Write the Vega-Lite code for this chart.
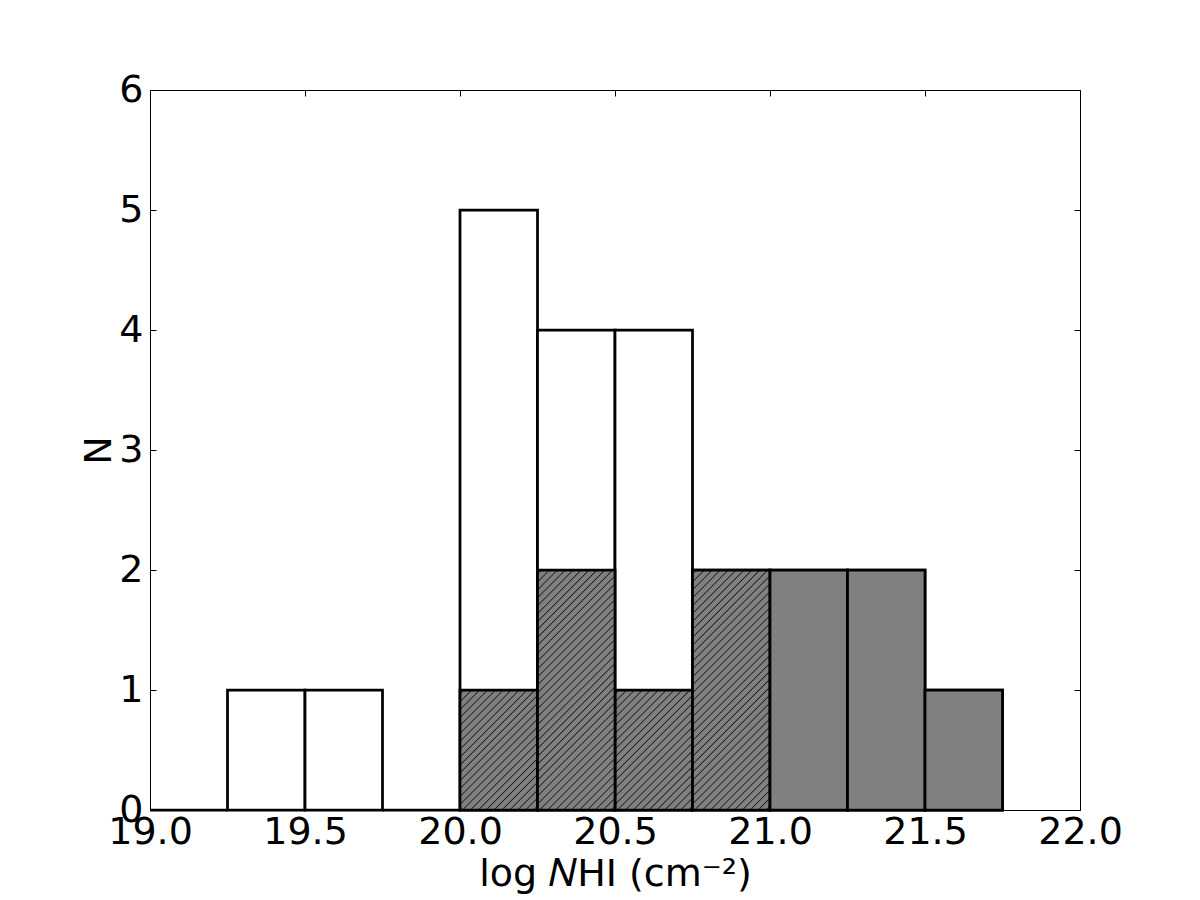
{
  "$schema": "https://vega.github.io/schema/vega-lite/v6.json",
  "autosize": {"type": "none"},
  "padding": {"left": 150, "top": 90, "right": 120, "bottom": 90},
  "width": 930,
  "height": 720,
  "background": "white",
  "config": {
    "view": {"stroke": "black", "strokeWidth": 1},
    "font": "DejaVu Sans",
    "axis": {
      "domain": false,
      "grid": false,
      "tickColor": "black",
      "tickWidth": 1,
      "tickSize": -6,
      "labelFont": "DejaVu Sans",
      "labelFontSize": 38,
      "labelColor": "black",
      "labelOverlap": false,
      "labelFlush": false,
      "labelBound": false,
      "titleFont": "DejaVu Sans",
      "titleFontSize": 38,
      "titleFontWeight": "normal",
      "titleColor": "black"
    }
  },
  "data": {
    "values": [
      {"lo": 19.0, "hi": 19.25, "n": 0, "sample": "all"},
      {"lo": 19.25, "hi": 19.5, "n": 1, "sample": "all"},
      {"lo": 19.5, "hi": 19.75, "n": 1, "sample": "all"},
      {"lo": 19.75, "hi": 20.0, "n": 0, "sample": "all"},
      {"lo": 20.0, "hi": 20.25, "n": 5, "sample": "all"},
      {"lo": 20.25, "hi": 20.5, "n": 4, "sample": "all"},
      {"lo": 20.5, "hi": 20.75, "n": 4, "sample": "all"},
      {"lo": 20.75, "hi": 21.0, "n": 2, "sample": "all"},
      {"lo": 21.0, "hi": 21.25, "n": 2, "sample": "all"},
      {"lo": 21.25, "hi": 21.5, "n": 2, "sample": "all"},
      {"lo": 21.5, "hi": 21.75, "n": 1, "sample": "all"},
      {"lo": 20.0, "hi": 20.25, "n": 1, "sample": "hatched"},
      {"lo": 20.25, "hi": 20.5, "n": 2, "sample": "hatched"},
      {"lo": 20.5, "hi": 20.75, "n": 1, "sample": "hatched"},
      {"lo": 20.75, "hi": 21.0, "n": 2, "sample": "hatched"},
      {"lo": 21.0, "hi": 21.25, "n": 2, "sample": "solid"},
      {"lo": 21.25, "hi": 21.5, "n": 2, "sample": "solid"},
      {"lo": 21.5, "hi": 21.75, "n": 1, "sample": "solid"}
    ]
  },
  "resolve": {"axis": {"x": "independent", "y": "independent"}},
  "layer": [
    {
      "transform": [{"filter": "datum.sample == 'all'"}],
      "mark": {"type": "bar", "fill": "white", "stroke": "black", "strokeWidth": 2.75},
      "encoding": {
        "x": {"field": "lo", "type": "quantitative", "scale": {"domain": [19, 22], "nice": false, "zero": false},
          "axis": {"orient": "bottom", "values": [19, 19.5, 20, 20.5, 21, 21.5, 22], "format": ".1f", "labelPadding": 9, "title": "log 𝑁HI (cm⁻²)", "titlePadding": 4}},
        "x2": {"field": "hi"},
        "y": {"field": "n", "type": "quantitative", "scale": {"domain": [0, 6], "nice": false},
          "axis": {"orient": "left", "values": [0, 1, 2, 3, 4, 5, 6], "format": "d", "labelPadding": 13, "title": "N", "titlePadding": 0}},
        "y2": {"datum": 0}
      }
    },
    {
      "transform": [{"filter": "datum.sample == 'hatched' && datum.n == 1"}],
      "mark": {"type": "bar", "stroke": "black", "strokeWidth": 2.75,
        "fill": {"gradient": "linear", "x1": 0, "y1": 0, "x2": 0.75, "y2": 1.161, "stops": [
          {"offset": 0, "color": "#808080"},
          {"offset": 0.014, "color": "#808080"}, {"offset": 0.02, "color": "#1a1a1a"}, {"offset": 0.026, "color": "#808080"},
          {"offset": 0.054, "color": "#808080"}, {"offset": 0.06, "color": "#1a1a1a"}, {"offset": 0.066, "color": "#808080"},
          {"offset": 0.094, "color": "#808080"}, {"offset": 0.10, "color": "#1a1a1a"}, {"offset": 0.106, "color": "#808080"},
          {"offset": 0.134, "color": "#808080"}, {"offset": 0.14, "color": "#1a1a1a"}, {"offset": 0.146, "color": "#808080"},
          {"offset": 0.174, "color": "#808080"}, {"offset": 0.18, "color": "#1a1a1a"}, {"offset": 0.186, "color": "#808080"},
          {"offset": 0.214, "color": "#808080"}, {"offset": 0.22, "color": "#1a1a1a"}, {"offset": 0.226, "color": "#808080"},
          {"offset": 0.254, "color": "#808080"}, {"offset": 0.26, "color": "#1a1a1a"}, {"offset": 0.266, "color": "#808080"},
          {"offset": 0.294, "color": "#808080"}, {"offset": 0.30, "color": "#1a1a1a"}, {"offset": 0.306, "color": "#808080"},
          {"offset": 0.334, "color": "#808080"}, {"offset": 0.34, "color": "#1a1a1a"}, {"offset": 0.346, "color": "#808080"},
          {"offset": 0.374, "color": "#808080"}, {"offset": 0.38, "color": "#1a1a1a"}, {"offset": 0.386, "color": "#808080"},
          {"offset": 0.414, "color": "#808080"}, {"offset": 0.42, "color": "#1a1a1a"}, {"offset": 0.426, "color": "#808080"},
          {"offset": 0.454, "color": "#808080"}, {"offset": 0.46, "color": "#1a1a1a"}, {"offset": 0.466, "color": "#808080"},
          {"offset": 0.494, "color": "#808080"}, {"offset": 0.50, "color": "#1a1a1a"}, {"offset": 0.506, "color": "#808080"},
          {"offset": 0.534, "color": "#808080"}, {"offset": 0.54, "color": "#1a1a1a"}, {"offset": 0.546, "color": "#808080"},
          {"offset": 0.574, "color": "#808080"}, {"offset": 0.58, "color": "#1a1a1a"}, {"offset": 0.586, "color": "#808080"},
          {"offset": 0.614, "color": "#808080"}, {"offset": 0.62, "color": "#1a1a1a"}, {"offset": 0.626, "color": "#808080"},
          {"offset": 0.654, "color": "#808080"}, {"offset": 0.66, "color": "#1a1a1a"}, {"offset": 0.666, "color": "#808080"},
          {"offset": 0.694, "color": "#808080"}, {"offset": 0.70, "color": "#1a1a1a"}, {"offset": 0.706, "color": "#808080"},
          {"offset": 0.734, "color": "#808080"}, {"offset": 0.74, "color": "#1a1a1a"}, {"offset": 0.746, "color": "#808080"},
          {"offset": 0.774, "color": "#808080"}, {"offset": 0.78, "color": "#1a1a1a"}, {"offset": 0.786, "color": "#808080"},
          {"offset": 0.814, "color": "#808080"}, {"offset": 0.82, "color": "#1a1a1a"}, {"offset": 0.826, "color": "#808080"},
          {"offset": 0.854, "color": "#808080"}, {"offset": 0.86, "color": "#1a1a1a"}, {"offset": 0.866, "color": "#808080"},
          {"offset": 0.894, "color": "#808080"}, {"offset": 0.90, "color": "#1a1a1a"}, {"offset": 0.906, "color": "#808080"},
          {"offset": 0.934, "color": "#808080"}, {"offset": 0.94, "color": "#1a1a1a"}, {"offset": 0.946, "color": "#808080"},
          {"offset": 0.974, "color": "#808080"}, {"offset": 0.98, "color": "#1a1a1a"}, {"offset": 0.986, "color": "#808080"},
          {"offset": 1, "color": "#808080"}
        ]}},
      "encoding": {
        "x": {"field": "lo", "type": "quantitative", "axis": null},
        "x2": {"field": "hi"},
        "y": {"field": "n", "type": "quantitative", "axis": null},
        "y2": {"datum": 0}
      }
    },
    {
      "transform": [{"filter": "datum.sample == 'hatched' && datum.n == 2"}],
      "mark": {"type": "bar", "stroke": "black", "strokeWidth": 2.75,
        "fill": {"gradient": "linear", "x1": 0, "y1": 0, "x2": 0.387, "y2": 1.198, "stops": [
          {"offset": 0, "color": "#808080"},
          {"offset": 0.0088, "color": "#808080"}, {"offset": 0.0125, "color": "#1a1a1a"}, {"offset": 0.0162, "color": "#808080"},
          {"offset": 0.0338, "color": "#808080"}, {"offset": 0.0375, "color": "#1a1a1a"}, {"offset": 0.0412, "color": "#808080"},
          {"offset": 0.0588, "color": "#808080"}, {"offset": 0.0625, "color": "#1a1a1a"}, {"offset": 0.0662, "color": "#808080"},
          {"offset": 0.0838, "color": "#808080"}, {"offset": 0.0875, "color": "#1a1a1a"}, {"offset": 0.0912, "color": "#808080"},
          {"offset": 0.1088, "color": "#808080"}, {"offset": 0.1125, "color": "#1a1a1a"}, {"offset": 0.1162, "color": "#808080"},
          {"offset": 0.1338, "color": "#808080"}, {"offset": 0.1375, "color": "#1a1a1a"}, {"offset": 0.1412, "color": "#808080"},
          {"offset": 0.1588, "color": "#808080"}, {"offset": 0.1625, "color": "#1a1a1a"}, {"offset": 0.1662, "color": "#808080"},
          {"offset": 0.1838, "color": "#808080"}, {"offset": 0.1875, "color": "#1a1a1a"}, {"offset": 0.1912, "color": "#808080"},
          {"offset": 0.2088, "color": "#808080"}, {"offset": 0.2125, "color": "#1a1a1a"}, {"offset": 0.2162, "color": "#808080"},
          {"offset": 0.2338, "color": "#808080"}, {"offset": 0.2375, "color": "#1a1a1a"}, {"offset": 0.2412, "color": "#808080"},
          {"offset": 0.2588, "color": "#808080"}, {"offset": 0.2625, "color": "#1a1a1a"}, {"offset": 0.2662, "color": "#808080"},
          {"offset": 0.2838, "color": "#808080"}, {"offset": 0.2875, "color": "#1a1a1a"}, {"offset": 0.2912, "color": "#808080"},
          {"offset": 0.3088, "color": "#808080"}, {"offset": 0.3125, "color": "#1a1a1a"}, {"offset": 0.3162, "color": "#808080"},
          {"offset": 0.3338, "color": "#808080"}, {"offset": 0.3375, "color": "#1a1a1a"}, {"offset": 0.3412, "color": "#808080"},
          {"offset": 0.3588, "color": "#808080"}, {"offset": 0.3625, "color": "#1a1a1a"}, {"offset": 0.3662, "color": "#808080"},
          {"offset": 0.3838, "color": "#808080"}, {"offset": 0.3875, "color": "#1a1a1a"}, {"offset": 0.3912, "color": "#808080"},
          {"offset": 0.4088, "color": "#808080"}, {"offset": 0.4125, "color": "#1a1a1a"}, {"offset": 0.4162, "color": "#808080"},
          {"offset": 0.4338, "color": "#808080"}, {"offset": 0.4375, "color": "#1a1a1a"}, {"offset": 0.4412, "color": "#808080"},
          {"offset": 0.4588, "color": "#808080"}, {"offset": 0.4625, "color": "#1a1a1a"}, {"offset": 0.4662, "color": "#808080"},
          {"offset": 0.4838, "color": "#808080"}, {"offset": 0.4875, "color": "#1a1a1a"}, {"offset": 0.4912, "color": "#808080"},
          {"offset": 0.5088, "color": "#808080"}, {"offset": 0.5125, "color": "#1a1a1a"}, {"offset": 0.5162, "color": "#808080"},
          {"offset": 0.5338, "color": "#808080"}, {"offset": 0.5375, "color": "#1a1a1a"}, {"offset": 0.5412, "color": "#808080"},
          {"offset": 0.5588, "color": "#808080"}, {"offset": 0.5625, "color": "#1a1a1a"}, {"offset": 0.5662, "color": "#808080"},
          {"offset": 0.5838, "color": "#808080"}, {"offset": 0.5875, "color": "#1a1a1a"}, {"offset": 0.5912, "color": "#808080"},
          {"offset": 0.6088, "color": "#808080"}, {"offset": 0.6125, "color": "#1a1a1a"}, {"offset": 0.6162, "color": "#808080"},
          {"offset": 0.6338, "color": "#808080"}, {"offset": 0.6375, "color": "#1a1a1a"}, {"offset": 0.6412, "color": "#808080"},
          {"offset": 0.6588, "color": "#808080"}, {"offset": 0.6625, "color": "#1a1a1a"}, {"offset": 0.6662, "color": "#808080"},
          {"offset": 0.6838, "color": "#808080"}, {"offset": 0.6875, "color": "#1a1a1a"}, {"offset": 0.6912, "color": "#808080"},
          {"offset": 0.7088, "color": "#808080"}, {"offset": 0.7125, "color": "#1a1a1a"}, {"offset": 0.7162, "color": "#808080"},
          {"offset": 0.7338, "color": "#808080"}, {"offset": 0.7375, "color": "#1a1a1a"}, {"offset": 0.7412, "color": "#808080"},
          {"offset": 0.7588, "color": "#808080"}, {"offset": 0.7625, "color": "#1a1a1a"}, {"offset": 0.7662, "color": "#808080"},
          {"offset": 0.7838, "color": "#808080"}, {"offset": 0.7875, "color": "#1a1a1a"}, {"offset": 0.7912, "color": "#808080"},
          {"offset": 0.8088, "color": "#808080"}, {"offset": 0.8125, "color": "#1a1a1a"}, {"offset": 0.8162, "color": "#808080"},
          {"offset": 0.8338, "color": "#808080"}, {"offset": 0.8375, "color": "#1a1a1a"}, {"offset": 0.8412, "color": "#808080"},
          {"offset": 0.8588, "color": "#808080"}, {"offset": 0.8625, "color": "#1a1a1a"}, {"offset": 0.8662, "color": "#808080"},
          {"offset": 0.8838, "color": "#808080"}, {"offset": 0.8875, "color": "#1a1a1a"}, {"offset": 0.8912, "color": "#808080"},
          {"offset": 0.9088, "color": "#808080"}, {"offset": 0.9125, "color": "#1a1a1a"}, {"offset": 0.9162, "color": "#808080"},
          {"offset": 0.9338, "color": "#808080"}, {"offset": 0.9375, "color": "#1a1a1a"}, {"offset": 0.9412, "color": "#808080"},
          {"offset": 0.9588, "color": "#808080"}, {"offset": 0.9625, "color": "#1a1a1a"}, {"offset": 0.9662, "color": "#808080"},
          {"offset": 0.9838, "color": "#808080"}, {"offset": 0.9875, "color": "#1a1a1a"}, {"offset": 0.9912, "color": "#808080"},
          {"offset": 1, "color": "#808080"}
        ]}},
      "encoding": {
        "x": {"field": "lo", "type": "quantitative", "axis": null},
        "x2": {"field": "hi"},
        "y": {"field": "n", "type": "quantitative", "axis": null},
        "y2": {"datum": 0}
      }
    },
    {
      "transform": [{"filter": "datum.sample == 'solid'"}],
      "mark": {"type": "bar", "fill": "#808080", "stroke": "black", "strokeWidth": 2.75},
      "encoding": {
        "x": {"field": "lo", "type": "quantitative",
          "axis": {"orient": "top", "values": [19, 19.5, 20, 20.5, 21, 21.5, 22], "labels": false, "title": null}},
        "x2": {"field": "hi"},
        "y": {"field": "n", "type": "quantitative",
          "axis": {"orient": "right", "values": [0, 1, 2, 3, 4, 5, 6], "labels": false, "title": null}},
        "y2": {"datum": 0}
      }
    }
  ]
}
